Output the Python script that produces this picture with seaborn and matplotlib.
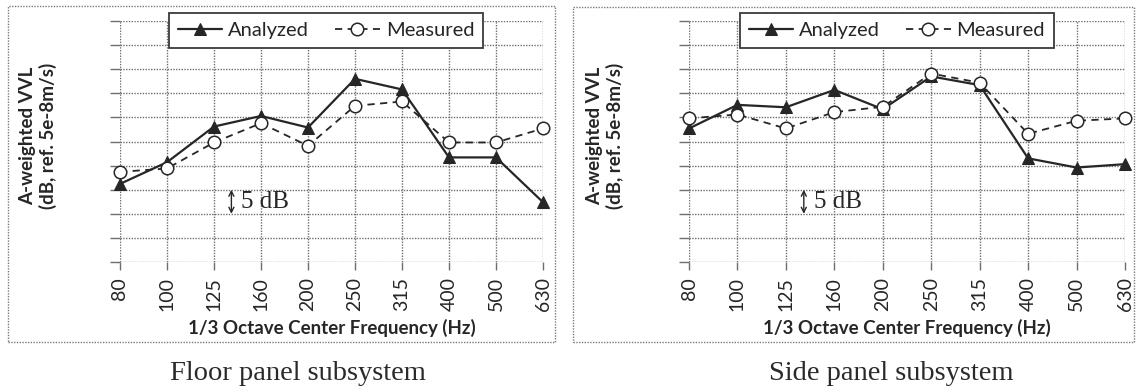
import matplotlib
matplotlib.use("Agg")
import matplotlib.pyplot as plt
from matplotlib.patches import Rectangle
import seaborn as sns
import pandas as pd

# 1/3 octave band centre frequencies (Hz)
freqs = ["80", "100", "125", "160", "200", "250", "315", "400", "500", "630"]

# A-weighted vibration velocity levels, relative dB (5 dB per grid step)
floor_analyzed = [16.2, 20.7, 28.1, 30.3, 27.9, 38.0, 35.8, 21.7, 21.7, 12.4]
floor_measured = [18.7, 19.4, 24.8, 28.8, 24.1, 32.4, 33.3, 24.8, 24.8, 27.7]
side_analyzed = [27.7, 32.6, 32.1, 35.7, 31.7, 38.5, 36.7, 21.5, 19.6, 20.3]
side_measured = [29.8, 30.6, 27.7, 31.1, 32.2, 39.1, 37.2, 26.6, 29.3, 29.8]

captions = ["Floor panel subsystem", "Side panel subsystem"]
series_names = ["Analyzed", "Measured"]
ylabel = "A-weighted VVL\n(dB, ref. 5e-8m/s)"
xlabel = "1/3 Octave Center Frequency (Hz)"
scale_note = "5 dB"

sns.set_theme(style="white")
plt.rcParams["font.family"] = ["Lato", "DejaVu Sans"]

W, H = 1137, 392
fig = plt.figure(figsize=(W / 100, H / 100), dpi=100)

ink = "#262626"
grid_c = "#6e6e6e"


def fx(px):
    return px / W


def fy(py):
    return 1 - py / H


panels = [
    dict(data=(floor_analyzed, floor_measured), ax=(120, 543, 21, 262),
         frame=(8, 555, 6, 342), legend=(326, 30.5), ylab_x=38, cap_x=298),
    dict(data=(side_analyzed, side_measured), ax=(689, 1125, 21, 262),
         frame=(573, 1134, 7, 342), legend=(897, 30.5), ylab_x=605, cap_x=891),
]

for i, p in enumerate(panels):
    x0, x1, y0, y1 = p["ax"]
    ax = fig.add_axes([fx(x0), fy(y1), fx(x1) - fx(x0), fy(y0) - fy(y1)])
    analyzed, measured = p["data"]
    df = pd.DataFrame({"freq": freqs, series_names[0]: analyzed,
                       series_names[1]: measured})

    sns.lineplot(data=df, x="freq", y=series_names[0], ax=ax, sort=False,
                 color=ink, lw=1.6, marker="^", markersize=9,
                 markerfacecolor=ink, markeredgecolor=ink,
                 label=series_names[0], zorder=4, clip_on=False)
    sns.lineplot(data=df, x="freq", y=series_names[1], ax=ax, sort=False,
                 color=ink, lw=1.3, linestyle=(0, (4, 3)), marker="o",
                 markersize=9, markerfacecolor="white",
                 markeredgecolor=ink, markeredgewidth=1.1,
                 label=series_names[1], zorder=5, clip_on=False)

    ax.set_xlim(0, len(freqs) - 1)
    ax.set_ylim(0, 50)
    ax.set_yticks(range(0, 51, 5))
    ax.set_yticklabels([])
    ax.set_ylabel("")
    ax.set_xlabel(xlabel, fontsize=13.5, fontweight="bold", color=ink,
                  va="center")
    ax.xaxis.set_label_coords(0.5, -(328 - y1) / (y1 - y0))
    ax.grid(True, which="major", axis="both", color=grid_c,
            linestyle=(0, (1, 1)), lw=1.0)
    ax.set_axisbelow(True)
    for s in ax.spines.values():
        s.set_visible(False)
    ax.tick_params(axis="x", length=6, width=1, color=grid_c, direction="out",
                   pad=5, labelsize=14, labelrotation=90, labelcolor=ink,
                   bottom=True)
    ax.tick_params(axis="y", length=7, width=1, color=grid_c, direction="out",
                   left=True)

    # 5 dB scale indicator
    ax.annotate("", xy=(2.37, 10), xytext=(2.37, 15),
                arrowprops=dict(arrowstyle="<->", color=ink, lw=1.0,
                                shrinkA=0, shrinkB=0,
                                mutation_scale=9))
    ax.text(2.58, 12.5, scale_note, fontsize=18, family="Liberation Serif",
            color=ink, va="center", ha="left")

    lx, ly = p["legend"]
    leg = ax.legend(loc="center", bbox_to_anchor=(fx(lx), fy(ly)),
                    bbox_transform=fig.transFigure, ncol=2, frameon=True,
                    fancybox=False, framealpha=1, edgecolor="#3a3a3a",
                    fontsize=14.5, handlelength=2.2, columnspacing=1.3,
                    handletextpad=0.3, borderpad=0.45)
    leg.get_frame().set_linewidth(1.3)
    for t in leg.get_texts():
        t.set_color(ink)

    ylx = p["ylab_x"]
    fig.text(fx(ylx), fy(136), ylabel, rotation=90, ha="center", va="center",
             multialignment="center", fontsize=13.5, fontweight="bold",
             color=ink, linespacing=1.15)

    fl, fr, ft, fb = p["frame"]
    fig.patches.append(Rectangle((fx(fl), fy(fb)), fx(fr) - fx(fl),
                                 fy(ft) - fy(fb), transform=fig.transFigure,
                                 fill=False, edgecolor="#7a7a7a", lw=1.0,
                                 linestyle=(0, (1, 1))))

    fig.text(fx(p["cap_x"]), fy(374), captions[i], ha="center", va="center",
             fontsize=20.5, family="Liberation Serif", color="#2a2a2a")

fig.savefig("out.png", dpi=100, facecolor="white")
